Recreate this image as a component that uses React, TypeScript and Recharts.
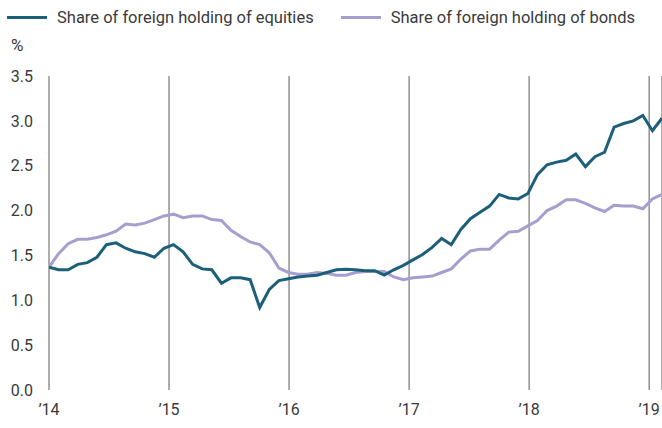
import { CartesianGrid, Line, LineChart, XAxis, YAxis } from 'recharts'

// share of foreign holding, % — points are roughly four-weekly from Jan 2014
const equities = [
  1.37, 1.34, 1.34, 1.40, 1.42, 1.48, 1.62, 1.64, 1.58, 1.54,
  1.52, 1.48, 1.58, 1.62, 1.54, 1.40, 1.35, 1.34, 1.19, 1.25,
  1.25, 1.23, 0.92, 1.12, 1.22, 1.24, 1.26, 1.27, 1.28, 1.31,
  1.34, 1.345, 1.34, 1.33, 1.33, 1.28, 1.34, 1.39, 1.45, 1.51,
  1.59, 1.69, 1.62, 1.79, 1.91, 1.98, 2.05, 2.18, 2.14, 2.13,
  2.19, 2.40, 2.51, 2.54, 2.56, 2.63, 2.49, 2.60, 2.65, 2.93,
  2.97, 3.00, 3.06, 2.89, 3.03,
]
const bonds = [
  1.37, 1.52, 1.63, 1.68, 1.68, 1.70, 1.73, 1.77, 1.85, 1.84,
  1.86, 1.90, 1.94, 1.96, 1.92, 1.94, 1.94, 1.90, 1.89, 1.78,
  1.71, 1.65, 1.62, 1.53, 1.36, 1.31, 1.29, 1.29, 1.31, 1.30,
  1.28, 1.28, 1.31, 1.32, 1.32, 1.32, 1.26, 1.23, 1.25, 1.26,
  1.27, 1.31, 1.35, 1.46, 1.55, 1.57, 1.57, 1.67, 1.76, 1.77,
  1.83, 1.89, 2.00, 2.05, 2.12, 2.12, 2.08, 2.03, 1.99, 2.06,
  2.05, 2.05, 2.02, 2.13, 2.18,
]
const years = [2014, 2015, 2016, 2017, 2018, 2019]
const yTicks = [0, 0.5, 1, 1.5, 2, 2.5, 3, 3.5]

const STEP = 0.0798 // years between observations
const data = equities.map((e, i) => ({ t: 2014 + i * STEP, equities: e, bonds: bonds[i] }))
const lastT = data[data.length - 1].t

const EQ_COLOR = '#1c5f7b'
const BOND_COLOR = '#a79ed0'
const FONT = 'Roboto, "Open Sans", sans-serif'
const INK = '#3a3a3a'

const legendItems = [
  { label: 'Share of foreign holding of equities', color: EQ_COLOR },
  { label: 'Share of foreign holding of bonds', color: BOND_COLOR },
]

export default function App() {
  return (
    <div style={{ position: 'absolute', left: 0, top: 0, width: 662, height: 428, background: '#fff' }}>
      <div
        style={{
          position: 'absolute', left: 7, top: 5, height: 24, display: 'flex', alignItems: 'center',
          fontFamily: FONT, fontSize: 16.5, color: INK, whiteSpace: 'nowrap',
        }}
      >
        {legendItems.map((it, i) => (
          <div key={it.label} style={{ display: 'flex', alignItems: 'center', marginLeft: i ? 27 : 0 }}>
            <span style={{ width: 40, height: 3, background: it.color, marginRight: 10, display: 'inline-block' }} />
            {it.label}
          </div>
        ))}
      </div>
      <div style={{ position: 'absolute', left: 11, top: 35, fontFamily: FONT, fontSize: 17, color: INK }}>%</div>
      <LineChart width={662} height={428} data={data} margin={{ top: 76, right: 0, bottom: 8, left: 0 }}>
        <CartesianGrid horizontal={false} stroke="#5a5a5a" strokeWidth={1} />
        <XAxis
          dataKey="t"
          type="number"
          domain={[2014, lastT]}
          ticks={years}
          allowDataOverflow
          axisLine={false}
          tickLine={false}
          tickSize={0}
          tickMargin={14}
          height={30}
          tick={{ fill: INK, fontSize: 16, fontFamily: FONT }}
          tickFormatter={(v: number) => `\u2019${String(v).slice(2)}`}
        />
        <YAxis
          domain={[0, 3.5]}
          ticks={yTicks}
          axisLine={false}
          tickLine={false}
          tickSize={0}
          tickMargin={16}
          width={49}
          tick={{ fill: INK, fontSize: 16, fontFamily: FONT }}
          tickFormatter={(v: number) => v.toFixed(1)}
        />
        <Line dataKey="bonds" stroke={BOND_COLOR} strokeWidth={3} dot={false} isAnimationActive={false} />
        <Line dataKey="equities" stroke={EQ_COLOR} strokeWidth={3} dot={false} isAnimationActive={false} />
      </LineChart>
    </div>
  )
}
